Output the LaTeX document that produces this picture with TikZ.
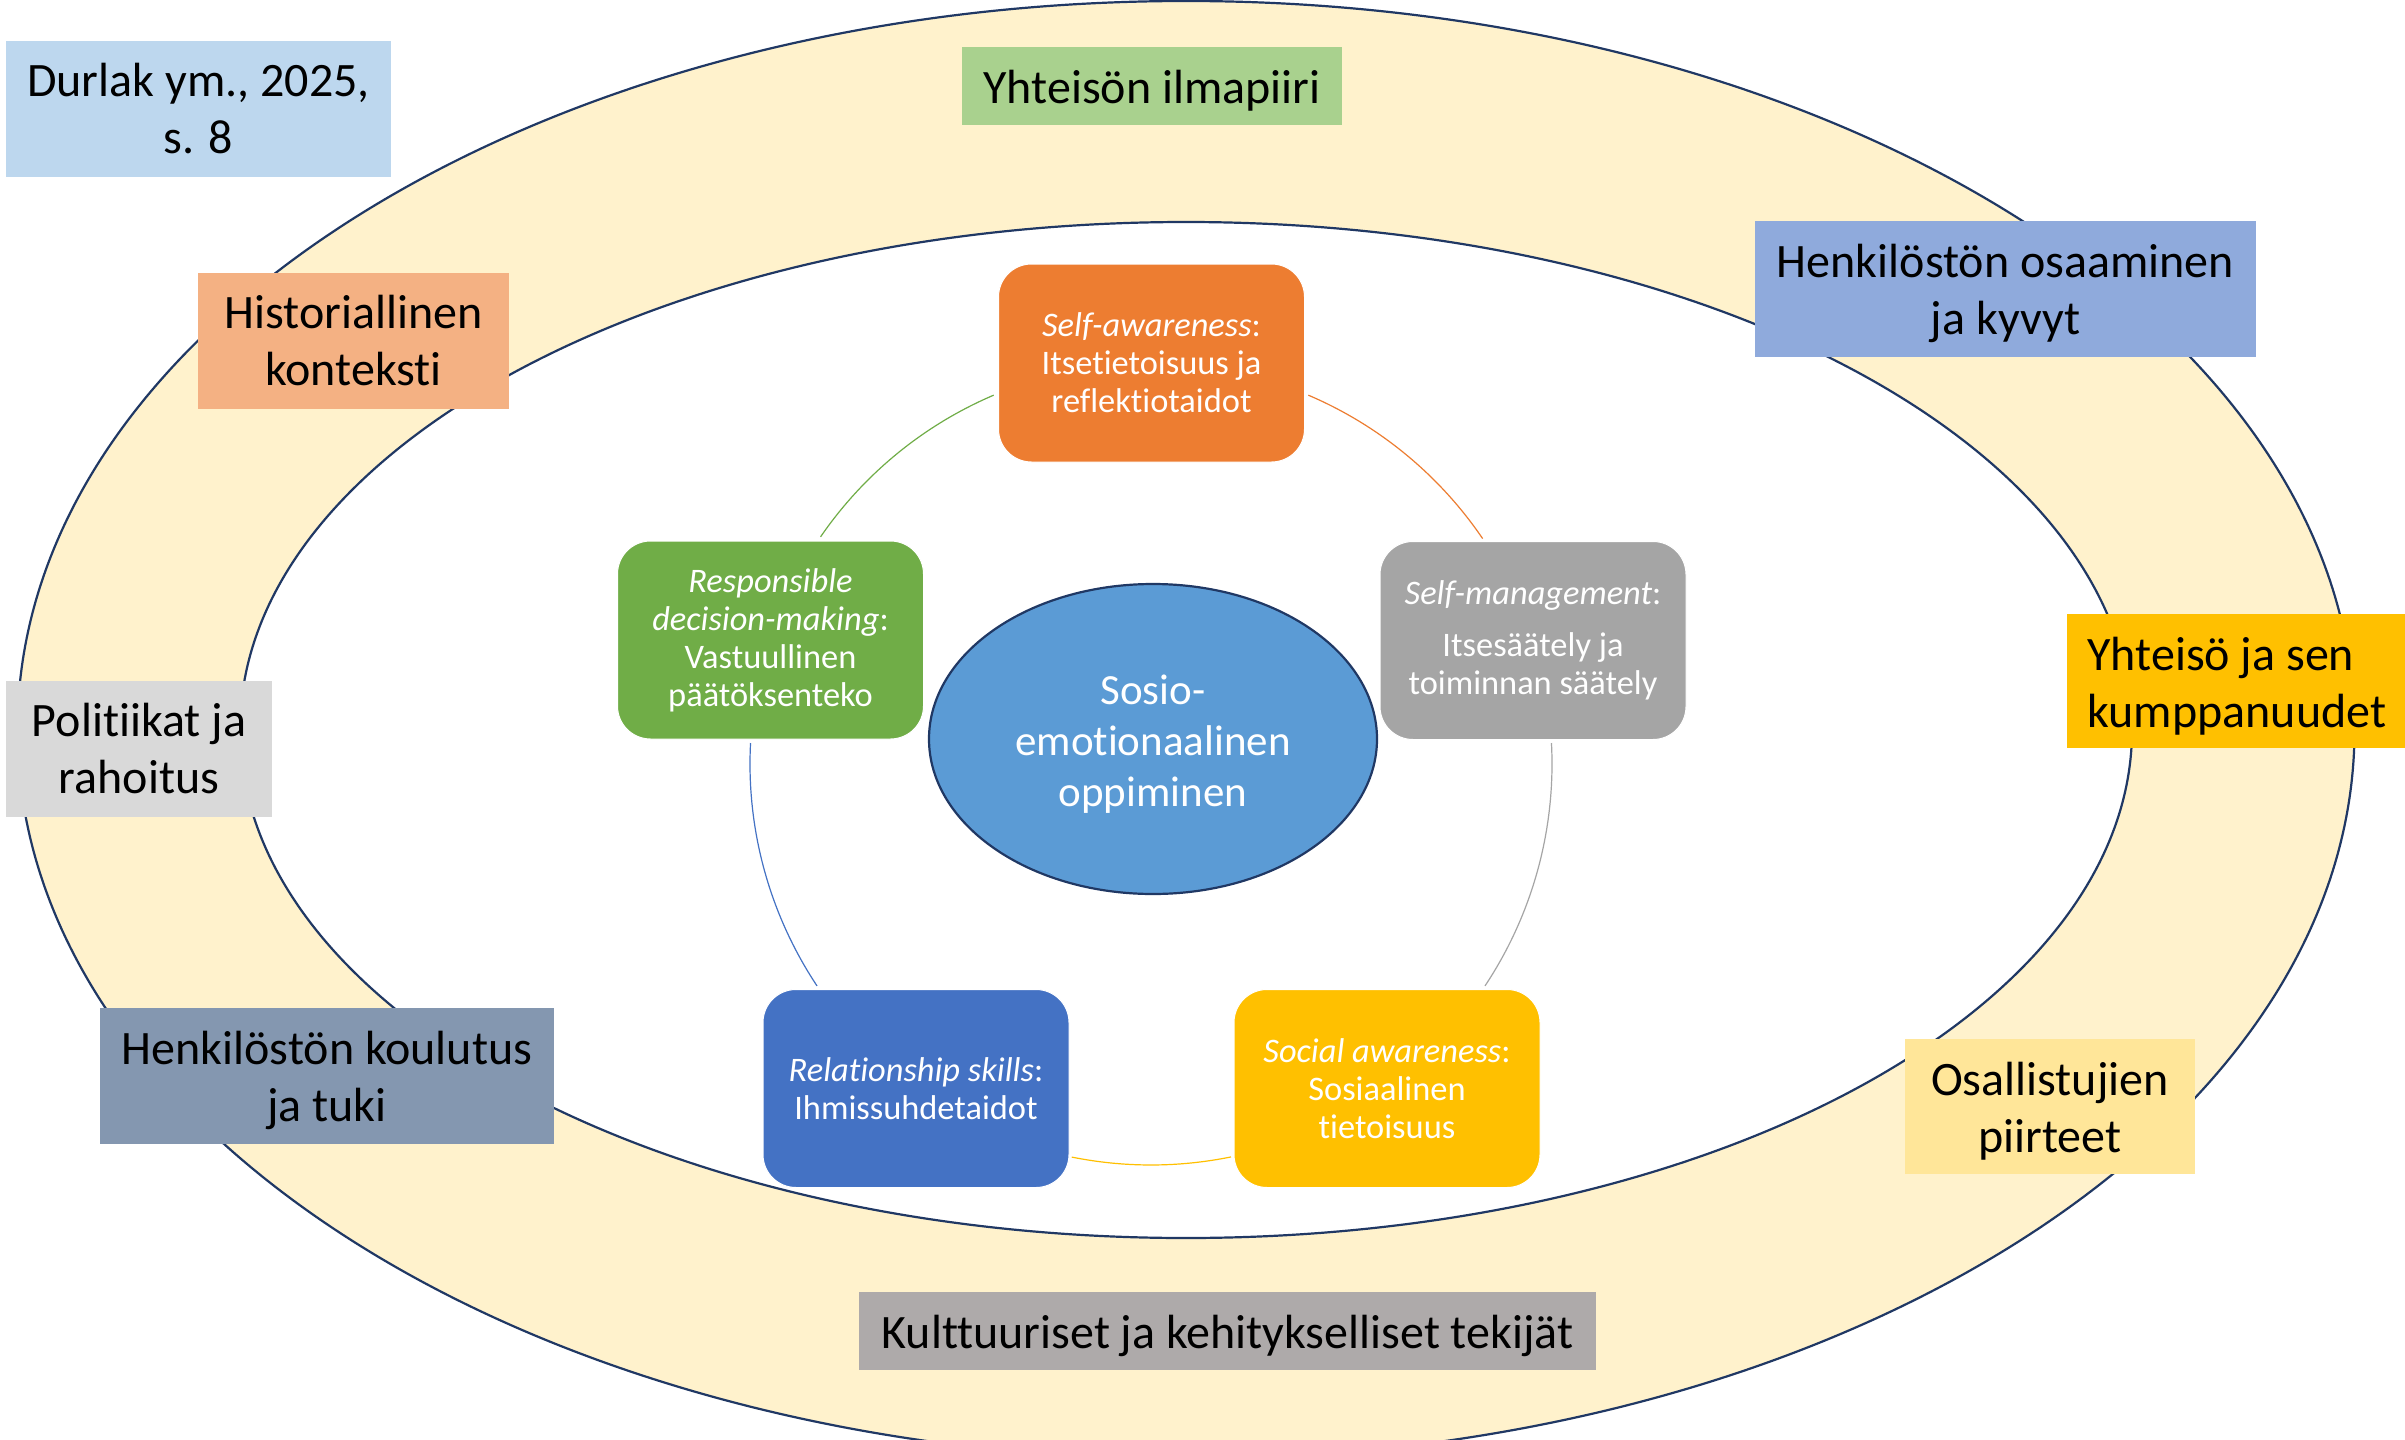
\documentclass[tikz,border=0pt]{standalone}
\usepackage{fontspec}
\setmainfont{Carlito}[Ligatures={NoCommon,NoRare}]
\usetikzlibrary{calc,shapes.geometric}
\definecolor{band}{HTML}{FFF2CC}
\definecolor{navy}{HTML}{203864}
\definecolor{cDur}{HTML}{BDD7EE}
\definecolor{cHist}{HTML}{F4B183}
\definecolor{cYil}{HTML}{A9D18E}
\definecolor{cHos}{HTML}{8FAADC}
\definecolor{cYse}{HTML}{FFC000}
\definecolor{cPol}{HTML}{D9D9D9}
\definecolor{cHko}{HTML}{8497B0}
\definecolor{cOsa}{HTML}{FFE699}
\definecolor{cKul}{HTML}{AEAAAA}
\definecolor{cOrange}{HTML}{ED7D31}
\definecolor{cGrey}{HTML}{A5A5A5}
\definecolor{cGreen}{HTML}{70AD47}
\definecolor{cBlue}{HTML}{4472C4}
\definecolor{cYellow}{HTML}{FFC000}
\definecolor{cCenter}{HTML}{5B9BD5}
\newcommand\lblstrut{\rule{0pt}{21.5pt}}
\newcommand\ctrstrut{\rule{0pt}{19.8pt}}
\begin{document}
\begin{tikzpicture}[x=0.5pt,y=-0.5pt,
  lbl/.style={rectangle, inner sep=0pt, align=center, text=black, font=\fontsize{24}{28.5}\selectfont},
  selbox/.style={rectangle, rounded corners=16.5pt, draw=white, line width=0.5pt, inner sep=0pt, align=center, text=white, minimum width=153pt, minimum height=99pt, font=\fontsize{17.2}{19}\selectfont},
  ring/.style={draw=navy, line width=1.1pt},
  link/.style={line width=0.6pt}]
\useasboundingbox (0,0) rectangle (2405,1440);
\clip (0,0) rectangle (2405,1440);
% rings
\coordinate (ctr) at (1186,730);
\draw[ring, fill=band] (ctr) ellipse [x radius=1168.5, y radius=729];
\draw[ring, fill=white] (ctr) ellipse [x radius=946, y radius=508];
% cycle connectors
\coordinate (cyc) at (1151,764);
\coordinate (gA) at ($(cyc)+(-145.5:401)$);
\coordinate (oA) at ($(cyc)+(-66.9:401)$);
\coordinate (mA) at ($(cyc)+(-3:401)$);
\coordinate (yA) at ($(cyc)+(78.5:401)$);
\coordinate (bA) at ($(cyc)+(146.4:401)$);
\draw[link, cGreen] (gA) arc[start angle=-145.5, end angle=-113.1, radius=401];
\draw[link, cOrange] (oA) arc[start angle=-66.9, end angle=-34.2, radius=401];
\draw[link, cGrey] (mA) arc[start angle=-3, end angle=33.6, radius=401];
\draw[link, cYellow] (yA) arc[start angle=78.5, end angle=101.4, radius=401];
\draw[link, cBlue] (bA) arc[start angle=146.4, end angle=183, radius=401];
% inner boxes
\node[selbox, fill=cOrange] (sa) at (1151.5,363) {\textit{Self-awareness}:\\ Itsetietoisuus ja\\ reflektiotaidot};
\node[selbox, fill=cGrey] (sm) at (1533,640.5) {\textit{Self-management}:\\[7pt] Itsesäätely ja\\ toiminnan säätely};
\node[selbox, fill=cGreen] (rd) at (770.5,640) {\textit{Responsible}\\ \textit{decision-making}:\\ Vastuullinen\\ päätöksenteko};
\node[selbox, fill=cBlue] (rs) at (916,1088.5) {\textit{Relationship skills}:\\ Ihmissuhdetaidot};
\node[selbox, fill=cYellow] (soc) at (1387,1088.5) {\textit{Social awareness}:\\ Sosiaalinen\\ tietoisuus};
\node[ellipse, fill=cCenter, draw=navy, line width=1.1pt, minimum width=224pt, minimum height=155pt, inner sep=0pt, align=center, text=white, font=\fontsize{21.5}{25.5}\selectfont] (sel) at (1153,739) {\ctrstrut Sosio-\\ emotionaalinen\\ oppiminen};
% outer labels
\node[lbl, fill=cDur, minimum width=192.5pt, minimum height=68pt] (dur) at (198.5,109) {Durlak ym., 2025,\\ s. 8};
\node[lbl, fill=cHist, minimum width=155.5pt, minimum height=68pt] (hist) at (353.5,341) {Historiallinen\\ konteksti};
\node[lbl, fill=cYil, minimum width=190pt, minimum height=39pt] (yil) at (1152,86) {\lblstrut Yhteisön ilmapiiri};
\node[lbl, fill=cHos, minimum width=250.5pt, minimum height=68pt] (hos) at (2005.5,289) {\lblstrut Henkilöstön osaaminen\\ ja kyvyt};
\node[lbl, fill=cYse, minimum width=169pt, minimum height=67pt] (yse) at (2236,681) {};
\node[lbl, anchor=west, align=left] (ysetxt) at (2087,681) {\lblstrut Yhteisö ja sen\\ kumppanuudet};
\node[lbl, fill=cPol, minimum width=133pt, minimum height=68pt] (pol) at (139,749) {Politiikat ja\\ rahoitus};
\node[lbl, fill=cHko, minimum width=227pt, minimum height=68pt] (hko) at (327,1076) {\lblstrut Henkilöstön koulutus\\ ja tuki};
\node[lbl, fill=cOsa, minimum width=145pt, minimum height=67.5pt] (osa) at (2050,1106.5) {\lblstrut Osallistujien\\ piirteet};
\node[lbl, fill=cKul, minimum width=368.5pt, minimum height=39pt] (kul) at (1227.5,1331) {\lblstrut Kulttuuriset ja kehitykselliset tekijät};
\end{tikzpicture}
\end{document}
